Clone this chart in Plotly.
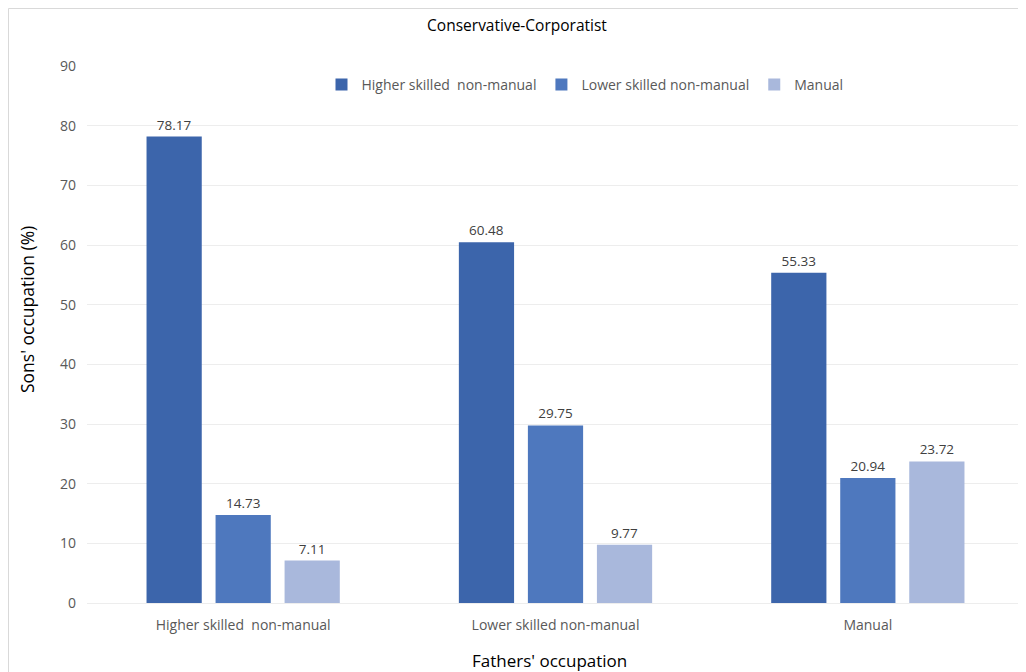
import plotly.graph_objects as go

categories = ["Higher skilled  non-manual", "Lower skilled non-manual", "Manual"]
series_names = ["Higher skilled  non-manual", "Lower skilled non-manual", "Manual"]
higher_vals = [78.17, 60.48, 55.33]
lower_vals = [14.73, 29.75, 20.94]
manual_vals = [7.11, 9.77, 23.72]
colors = ["#3C65AB", "#4E78BE", "#A9B8DC"]
y_ticks = [0, 10, 20, 30, 40, 50, 60, 70, 80, 90]

W, H = 1018, 664
L, R, T, B = 79, 2, 58, 69
PW, PH = W - L - R, H - T - B
OFF = 8  # page offset of the figure in the screenshot

fig = go.Figure()
for name, vals, col in zip(series_names, [higher_vals, lower_vals, manual_vals], colors):
    fig.add_trace(go.Bar(
        x=categories, y=vals, name=name,
        marker=dict(color=col, line=dict(width=0)),
        text=[f"{v:.2f}" for v in vals], textposition="outside",
        textfont=dict(family="Open Sans", size=13.5, color="#404040"),
        cliponaxis=False,
    ))

fig.update_layout(
    width=W, height=H,
    paper_bgcolor="white", plot_bgcolor="white",
    margin=dict(l=L, r=R, t=T, b=B),
    barmode="group", bargap=0.337, bargroupgap=0.2,
    font=dict(family="Open Sans", color="#595959", size=14),
    title=dict(text="Conservative-Corporatist", x=(517 - OFF) / W, xanchor="center",
               y=1 - 18 / H, yanchor="middle",
               font=dict(size=15.5, color="#000000", family="Open Sans")),
    legend=dict(orientation="h", x=(585 - OFF - L) / PW, xanchor="center", y=(603 - 85) / 537, yanchor="middle",
                font=dict(size=14, color="#595959"), itemwidth=30, traceorder="normal",
                bgcolor="rgba(0,0,0,0)"),
    xaxis=dict(showline=True, linecolor="#EDEDED", linewidth=1, ticks="", ticklabelstandoff=9,
               tickfont=dict(size=14, color="#595959")),
    yaxis=dict(range=[0, 90], tickvals=y_ticks, showgrid=True, gridcolor="#EDEDED", ticklabelstandoff=10,
               zeroline=False, tickfont=dict(size=14, color="#595959"), ticks=""),
    annotations=[
        dict(text="Fathers' occupation", xref="paper", yref="paper",
             x=(549.5 - OFF - L) / PW, y=-(660 - OFF - T - PH) / PH, xanchor="center", yanchor="middle",
             showarrow=False, font=dict(size=17, color="#000000")),
        dict(text="Sons' occupation (%)", xref="paper", yref="paper", textangle=-90,
             x=-(L - (27 - OFF)) / PW, y=1 - (310 - OFF - T) / PH, xanchor="center", yanchor="middle",
             showarrow=False, font=dict(size=17.5, color="#000000")),
    ],
    shapes=[dict(type="rect", xref="paper", yref="paper", x0=-(L - 0.5) / PW, x1=1.0 + (R + 10) / PW,
                 y0=-(B + 10) / PH, y1=1 + (T - 0.5) / PH,
                 line=dict(color="#D9D9D9", width=1), fillcolor="rgba(0,0,0,0)", layer="below")],
)

fig.write_html("out.html")
